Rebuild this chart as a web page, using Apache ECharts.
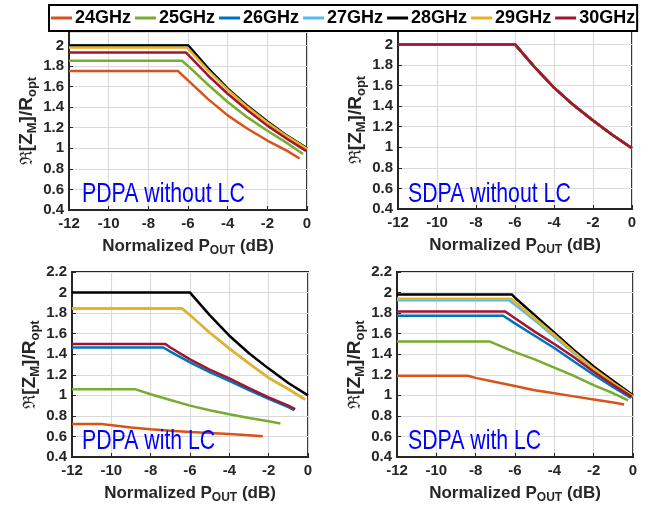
<!DOCTYPE html>
<html>
<head>
<meta charset="utf-8">
<script src="https://cdn.jsdelivr.net/npm/echarts@6/dist/echarts.min.js"></script>
<style>html,body{margin:0;padding:0;background:#fff}#c{width:654px;height:512px}</style>
</head>
<body>
<div id="c"></div>
<script>
// ---------- DATA ----------
const freqs = ['24GHz','25GHz','26GHz','27GHz','28GHz','29GHz','30GHz'];
const colors = ['#D95319','#77AC30','#0072BD','#4DBEEE','#000000','#EDB120','#A2142F'];
const xTicks = [-12,-10,-8,-6,-4,-2,0];
const panelLabels = ['PDPA without LC','SDPA without LC','PDPA with LC','SDPA with LC'];

// Panel 1: PDPA without LC
const p1_24 = [[-12,1.75],[-6.5,1.75],[-6,1.66],[-5,1.48],[-4,1.32],[-3,1.19],[-2,1.075],[-1,0.975],[-0.37,0.9]];
const p1_25 = [[-12,1.85],[-6.3,1.85],[-6,1.80],[-5,1.62],[-4,1.45],[-3,1.30],[-2,1.17],[-1,1.05],[-0.2,0.945]];
const p1_26 = [[-12,2.0],[-6,2.0],[-5,1.78],[-4,1.58],[-3,1.41],[-2,1.26],[-1,1.12],[0,1.0]];
const p1_27 = [[-12,2.0],[-6,2.0],[-5,1.78],[-4,1.58],[-3,1.41],[-2,1.26],[-1,1.12],[0,1.0]];
const p1_28 = [[-12,2.0],[-6,2.0],[-5,1.78],[-4,1.58],[-3,1.41],[-2,1.26],[-1,1.12],[0,1.0]];
const p1_29 = [[-12,1.98],[-6.05,1.98],[-6,1.97],[-5,1.76],[-4,1.57],[-3,1.40],[-2,1.25],[-1,1.115],[0,0.995]];
const p1_30 = [[-12,1.93],[-6.1,1.93],[-6,1.91],[-5,1.71],[-4,1.53],[-3,1.37],[-2,1.22],[-1,1.09],[-0.05,0.975]];

// Panel 2: SDPA without LC (all frequencies overlap)
const p2_all = [[-12,2.0],[-6,2.0],[-5,1.78],[-4,1.58],[-3,1.41],[-2,1.26],[-1,1.12],[0,0.99]];

// Panel 3: PDPA with LC
const p3_24 = [[-12,0.72],[-10.5,0.72],[-9,0.688],[-8,0.67],[-7,0.655],[-6,0.643],[-5,0.633],[-4,0.623],[-3,0.612],[-2.3,0.603]];
const p3_25 = [[-12,1.06],[-8.8,1.06],[-8,1.01],[-7,0.955],[-6,0.9],[-5,0.855],[-4,0.815],[-3,0.78],[-2,0.748],[-1.4,0.725]];
const p3_26 = [[-12,1.465],[-7.35,1.465],[-7,1.425],[-6,1.32],[-5,1.225],[-4,1.14],[-3,1.05],[-2,0.965],[-1,0.885],[-0.7,0.855]];
const p3_27 = [[-12,1.845],[-6.4,1.845],[-6,1.78],[-5,1.61],[-4,1.455],[-3,1.31],[-2,1.17],[-1,1.06],[-0.15,0.96]];
const p3_28 = [[-12,2.0],[-6,2.0],[-5,1.78],[-4,1.58],[-3,1.41],[-2,1.26],[-1,1.12],[0,1.0]];
const p3_29 = [[-12,1.845],[-6.4,1.845],[-6,1.78],[-5,1.61],[-4,1.455],[-3,1.31],[-2,1.17],[-1,1.06],[-0.15,0.96]];
const p3_30 = [[-12,1.5],[-7.25,1.5],[-7,1.465],[-6,1.35],[-5,1.25],[-4,1.165],[-3,1.07],[-2,0.98],[-1,0.9],[-0.65,0.865]];

// Panel 4: SDPA with LC
const p4_24 = [[-12,1.19],[-8.4,1.19],[-8,1.17],[-7,1.13],[-6,1.09],[-5,1.05],[-4,1.02],[-3,0.99],[-2,0.96],[-1,0.93],[-0.45,0.91]];
const p4_25 = [[-12,1.525],[-7.3,1.525],[-7,1.50],[-6,1.42],[-5,1.35],[-4,1.27],[-3,1.19],[-2,1.10],[-1,1.02],[-0.25,0.95]];
const p4_26 = [[-12,1.775],[-6.6,1.775],[-6,1.70],[-5,1.58],[-4,1.46],[-3,1.33],[-2,1.20],[-1,1.08],[-0.1,0.975]];
const p4_27 = [[-12,1.925],[-6.3,1.925],[-6,1.88],[-5,1.73],[-4,1.57],[-3,1.41],[-2,1.25],[-1,1.11],[-0.05,0.985]];
const p4_28 = [[-12,1.98],[-6.15,1.98],[-6,1.95],[-5,1.78],[-4,1.61],[-3,1.44],[-2,1.28],[-1,1.14],[0,1.0]];
const p4_29 = [[-12,1.94],[-6.2,1.94],[-6,1.91],[-5,1.75],[-4,1.59],[-3,1.42],[-2,1.26],[-1,1.12],[0,0.99]];
const p4_30 = [[-12,1.815],[-6.5,1.815],[-6,1.75],[-5,1.62],[-4,1.50],[-3,1.37],[-2,1.23],[-1,1.10],[-0.05,0.985]];

const panels = [
  [p1_24,p1_25,p1_26,p1_27,p1_28,p1_29,p1_30],
  [p2_all,p2_all,p2_all,p2_all,p2_all,p2_all,p2_all],
  [p3_24,p3_25,p3_26,p3_27,p3_28,p3_29,p3_30],
  [p4_24,p4_25,p4_26,p4_27,p4_28,p4_29,p4_30]
];
const yMax = [2.13, 2.13, 2.2, 2.2];

// ---------- LAYOUT ----------
const FONT = "'Liberation Sans',Arial,sans-serif";
const grids = [
  {left:69, top:32, width:238, height:178},
  {left:398, top:31, width:234, height:178},
  {left:72, top:272, width:236, height:185},
  {left:397, top:272, width:236, height:185}
];
const labelPos = [[82,180],[408,180],[82,427],[408,427]];

const chart = echarts.init(document.getElementById('c'), null, {renderer:'canvas'});

const xAxes = grids.map((g,i)=>({
  type:'value', gridIndex:i, min:-12, max:0, interval:2,
  name:'{a|Normalized P}{s|OUT}{a| (dB)}', nameLocation:'middle', nameGap:25,
  nameTextStyle:{rich:{
    a:{fontFamily:FONT, fontWeight:'bold', fontSize:17, color:'#262626', lineHeight:22, verticalAlign:'middle'},
    s:{fontFamily:FONT, fontWeight:'bold', fontSize:12, color:'#262626', lineHeight:22, verticalAlign:'bottom'}
  }},
  axisLine:{show:true, onZero:false, lineStyle:{color:'#262626', width:2}},
  axisTick:{show:true, inside:true, length:4, lineStyle:{color:'#262626'}},
  axisLabel:{fontFamily:FONT, fontWeight:'bold', fontSize:15, color:'#262626', margin:6,
    formatter:v=>String(v)},
  splitLine:{show:true, lineStyle:{color:'#dadada', width:1.2}}
}));
const yAxes = grids.map((g,i)=>({
  type:'value', gridIndex:i, min:0.4, max:yMax[i], interval:0.2,
  name:'{f|ℜ}{a|[Z}{s|M}{a|]/R}{s|opt}', nameLocation:'middle', nameGap:27, nameRotate:90,
  nameTextStyle:{rich:{
    f:{fontFamily:"'DejaVu Serif',serif", fontSize:17, color:'#262626', lineHeight:24, verticalAlign:'middle'},
    a:{fontFamily:FONT, fontWeight:'bold', fontSize:19, color:'#262626', lineHeight:24, verticalAlign:'middle'},
    s:{fontFamily:FONT, fontWeight:'bold', fontSize:13, color:'#262626', lineHeight:24, verticalAlign:'bottom'}
  }},
  axisLine:{show:true, onZero:false, lineStyle:{color:'#262626', width:2}},
  axisTick:{show:true, inside:true, length:4, lineStyle:{color:'#262626'}},
  axisLabel:{fontFamily:FONT, fontWeight:'bold', fontSize:15, color:'#262626', margin:5,
    showMaxLabel: yMax[i] === 2.2,
    formatter:v=>String(Math.round(v*10)/10)},
  splitLine:{show:true, lineStyle:{color:'#dadada', width:1.2}}
}));

const series = [];
panels.forEach((arrs,pi)=>{
  arrs.forEach((d,fi)=>{
    series.push({
      type:'line', name:freqs[fi], xAxisIndex:pi, yAxisIndex:pi,
      data:d, showSymbol:false, symbol:'none', animation:false,
      lineStyle:{color:colors[fi], width:2.5}, itemStyle:{color:colors[fi]},
      z: 2
    });
  });
});

const graphic = panelLabels.map((t,i)=>({
  type:'text', x:labelPos[i][0], y:labelPos[i][1], scaleX:0.76, z:10,
  style:{text:t, x:0, y:0, fill:'#0000ff', font:"28px "+FONT, textAlign:'left', textVerticalAlign:'top'}
}));

chart.setOption({
  animation:false,
  backgroundColor:'#ffffff',
  grid: grids.map(g=>Object.assign({show:true, borderColor:'#262626', borderWidth:2, backgroundColor:'transparent'}, g)),
  xAxis:xAxes, yAxis:yAxes,
  legend:{
    data:freqs.map((n,i)=>({name:n, icon:'rect', itemStyle:{color:colors[i]}})),
    left:49, top:5, orient:'horizontal',
    itemWidth:21, itemHeight:3, itemGap:4,
    padding:[4,2,4,2], borderColor:'#000', borderWidth:2, backgroundColor:'#fff',
    textStyle:{fontFamily:FONT, fontWeight:'bold', fontSize:18, color:'#000', padding:[0,0,0,-2]},
    z:20
  },
  graphic: graphic,
  series: series
});
</script>
</body>
</html>
